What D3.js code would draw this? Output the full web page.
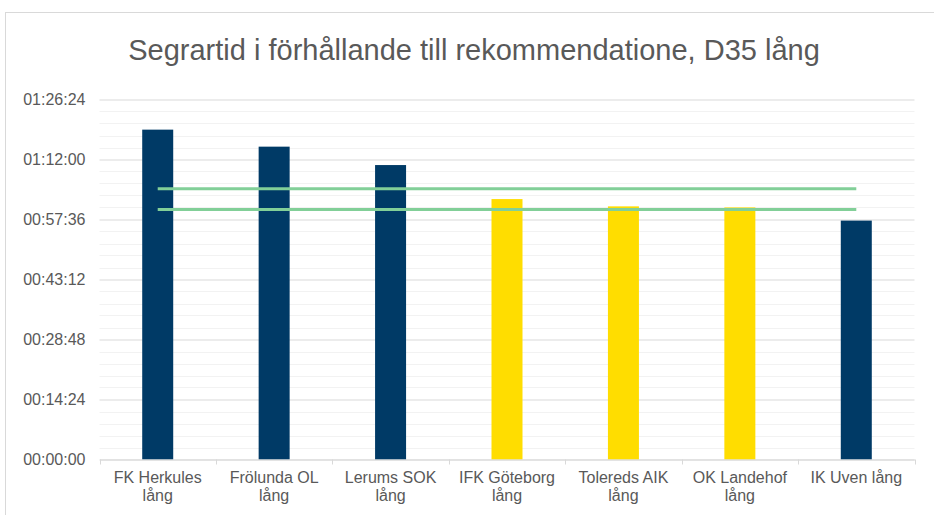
<!DOCTYPE html>
<html>
<head>
<meta charset="utf-8">
<script src="https://cdn.jsdelivr.net/npm/d3@7"></script>
<style>
  body { margin: 0; background: #fff; }
  text { font-family: "Liberation Sans", Arial, sans-serif; fill: #595959; }
</style>
</head>
<body>
<svg id="chart" width="934" height="515"></svg>
<script>
// chart data (times in seconds)
const title = "Segrartid i förhållande till rekommendatione, D35 lång";
const clubs = ["FK Herkules lång", "Frölunda OL lång", "Lerums SOK lång", "IFK Göteborg lång",
               "Tolereds AIK lång", "OK Landehof lång", "IK Uven lång"];
const winTimes = [4750, 4505, 4240, 3750, 3645, 3630, 3440];
const highlighted = [false, false, false, true, true, true, false];
const recommendUpper = [3900, 3900, 3900, 3900, 3900, 3900, 3900];
const recommendLower = [3600, 3600, 3600, 3600, 3600, 3600, 3600];
const yTicks = [0, 864, 1728, 2592, 3456, 4320, 5184];

const svg = d3.select("#chart");
const margin = { left: 99.5, right: 914.5, top: 99.5, bottom: 459.5 };

// outer frame (cut by the window on the right and bottom)
svg.append("rect")
    .attr("x", 5.5).attr("y", 12.5)
    .attr("width", 1000).attr("height", 1000)
    .attr("fill", "none").attr("stroke", "#d9d9d9");

svg.append("text")
    .attr("x", 474).attr("y", 60)
    .attr("text-anchor", "middle")
    .style("font-size", "29px")
    .text(title);

let x = d3.scaleBand().domain(clubs).range([ margin.left, margin.right ]).paddingInner(0).paddingOuter(0);
let y = d3.scaleLinear().domain([ 0, 5184 ]).range([ margin.bottom, margin.top ]);

function fmt(s)
{
  let h = Math.floor(s / 3600), m = Math.floor(s % 3600 / 60), sec = Math.round(s % 60);
  return [ h, m, sec ].map(v => String(v).padStart(2, "0")).join(":");
}

// minor grid first, then major
let minor = d3.range(0, 5184, 172.8).filter((v, i) => i % 5 !== 0);
svg.append("g").selectAll("line").data(minor).join("line")
    .attr("x1", margin.left).attr("x2", margin.right)
    .attr("y1", d => Math.round(y(d)) + 0.5).attr("y2", d => Math.round(y(d)) + 0.5)
    .attr("stroke", "#f2f2f2").attr("stroke-width", 1);

let yAxis = d3.axisLeft(y).tickValues(yTicks).tickFormat(fmt)
    .tickSize(-(margin.right - margin.left)).tickPadding(14);
let yg = svg.append("g").attr("transform", `translate(${margin.left},0)`).call(yAxis);
yg.select(".domain").remove();
yg.selectAll(".tick line").attr("stroke", "#d9d9d9");
yg.selectAll(".tick text").style("font-size", "16px").attr("fill", "#595959");

// bars
let bw = 31;
svg.append("g").selectAll("rect").data(clubs).join("rect")
    .attr("x", d => x(d) + x.bandwidth() / 2 - bw / 2)
    .attr("width", bw)
    .attr("y", (d, i) => y(winTimes[i]))
    .attr("height", (d, i) => y(0) - y(winTimes[i]))
    .attr("fill", (d, i) => highlighted[i] ? "#ffdd00" : "#003a66");

// x axis
let xg = svg.append("g").attr("transform", `translate(0,${margin.bottom})`)
    .call(d3.axisBottom(x).tickSize(0).tickPadding(0));
xg.select(".domain").attr("stroke", "#d9d9d9");
xg.selectAll(".tick text").remove();
let bounds = clubs.map(c => x(c)).concat([ margin.right ]);
xg.selectAll(".sep").data(bounds).join("line").attr("class", "sep")
    .attr("x1", d => Math.round(d) + 0.5).attr("x2", d => Math.round(d) + 0.5)
    .attr("y1", 0).attr("y2", 5).attr("stroke", "#d9d9d9");

// wrapped category labels
let labels = svg.append("g").selectAll("text").data(clubs).join("text")
    .attr("text-anchor", "middle").style("font-size", "16px")
    .attr("x", d => x(d) + x.bandwidth() / 2).attr("y", 483);
labels.each(function(d) {
  let t = d3.select(this), words = d.split(" "), line = [], n = 0;
  let ts = t.append("tspan").attr("x", t.attr("x")).attr("dy", 0);
  for (let w of words)
  {
    line.push(w);
    ts.text(line.join(" "));
    if (ts.node().getComputedTextLength() > 108 && line.length > 1)
    {
      line.pop();
      ts.text(line.join(" "));
      line = [ w ];
      n++;
      ts = t.append("tspan").attr("x", t.attr("x")).attr("dy", 18).text(w);
    }
  }
});

// recommendation lines
let cx = d => x(d) + x.bandwidth() / 2;
for (let series of [ recommendUpper, recommendLower ])
{
  let line = d3.line().x((d, i) => cx(clubs[i])).y(d => y(d));
  svg.append("path").datum(series).attr("d", line)
      .attr("fill", "none").attr("stroke", "#82cf98").attr("stroke-width", 3);
}
</script>
</body>
</html>
